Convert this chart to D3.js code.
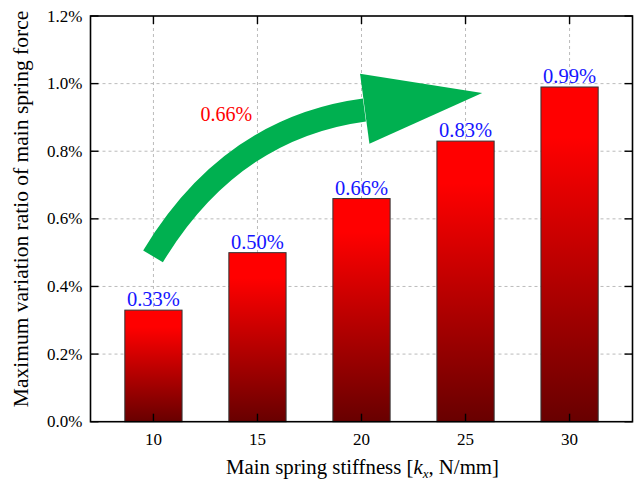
<!DOCTYPE html>
<html><head><meta charset="utf-8">
<script src="https://cdn.jsdelivr.net/npm/d3@7"></script>
<style>body{margin:0;background:#fff}svg{display:block}</style>
</head><body><svg id="c" width="642" height="483"></svg>
<script>
const categories = ["10","15","20","25","30"];
const values = [0.33, 0.50, 0.66, 0.83, 0.99];
const valueLabels = ["0.33%","0.50%","0.66%","0.83%","0.99%"];
const yTicks = [0,0.2,0.4,0.6,0.8,1.0,1.2];
const yTickLabels = ["0.0%","0.2%","0.4%","0.6%","0.8%","1.0%","1.2%"];
const annotationText = "0.66%";
// arrow path in data space: [stiffness, ratio%]
const arrowShaft = [[9.98,0.489],[13.7,0.869],[20.14,0.922]];
const arrowHead = [[19.93,1.029],[25.8,0.972],[20.38,0.822]];
const annotationPos = [13.5,0.89];

const FONT = "'Liberation Serif', 'Times New Roman', 'DejaVu Serif', serif";
const svg = d3.select("#c").attr("font-family", FONT);
const m = {l:90.5, r:632.5, t:16, b:421.7};
const x = d3.scaleBand().domain(categories).range([m.l,m.r]).paddingInner(0.45).paddingOuter(0.33);
const xc = d => x(d)+x.bandwidth()/2;
const xk = d3.scaleLinear().domain([10,15]).range([xc("10"),xc("15")]);
const y = d3.scaleLinear().domain([0,1.2]).range([m.b,m.t]);

const defs = svg.append("defs");
const g = defs.append("linearGradient").attr("id","bg").attr("x1",0).attr("y1",0).attr("x2",0).attr("y2",1);
g.append("stop").attr("offset","0").attr("stop-color","#ff0000");
g.append("stop").attr("offset","0.15").attr("stop-color","#ff0000");
g.append("stop").attr("offset","1").attr("stop-color","#680000");

// grid
svg.append("g").selectAll("line").data(yTicks.slice(1,-1)).join("line")
  .attr("x1",m.l).attr("x2",m.r).attr("y1",d=>y(d)).attr("y2",d=>y(d))
  .attr("stroke","#aaa").attr("stroke-width",0.8).attr("stroke-dasharray","3,3");
svg.append("g").selectAll("line").data(categories).join("line")
  .attr("x1",d=>xc(d)).attr("x2",d=>xc(d)).attr("y1",m.t).attr("y2",m.b)
  .attr("stroke","#aaa").attr("stroke-width",0.8).attr("stroke-dasharray","3,3");

// bars
svg.append("g").selectAll("rect").data(values).join("rect")
  .attr("x",(d,i)=>x(categories[i])).attr("width",x.bandwidth())
  .attr("y",d=>y(d)).attr("height",d=>y(0)-y(d))
  .attr("fill","url(#bg)").attr("stroke","#333").attr("stroke-width",1);

// value labels
svg.append("g").selectAll("text").data(values).join("text")
  .attr("font-family",FONT)
  .attr("x",(d,i)=>xc(categories[i])).attr("y",d=>y(d)-4)
  .attr("text-anchor","middle").attr("fill","#1515ff").attr("font-size",20.5)
  .text((d,i)=>valueLabels[i]);

// arrow
const shaft = d3.path();
const P = p => [xk(p[0]), y(p[1])];
const s0=P(arrowShaft[0]), s1=P(arrowShaft[1]), s2=P(arrowShaft[2]);
shaft.moveTo(s0[0],s0[1]); shaft.quadraticCurveTo(s1[0],s1[1],s2[0],s2[1]);
svg.append("path").attr("d",shaft.toString()).attr("fill","none").attr("stroke","#00b050").attr("stroke-width",23);
svg.append("path").attr("d",d3.line()(arrowHead.map(P))+"Z").attr("fill","#00b050");

svg.append("text").attr("font-family",FONT).attr("x",xk(annotationPos[0])).attr("y",y(annotationPos[1]))
  .attr("text-anchor","middle").attr("fill","#ff0000").attr("font-size",20).text(annotationText);

// axes
const ax = svg.append("g").attr("stroke","#000");
ax.append("rect").attr("x",m.l).attr("y",m.t).attr("width",m.r-m.l).attr("height",m.b-m.t)
  .attr("fill","none").attr("stroke","#000").attr("stroke-width",1.6);
const tl = 8;
ax.selectAll(".yl").data(yTicks).join("line").attr("x1",m.l).attr("x2",m.l+tl).attr("y1",d=>y(d)).attr("y2",d=>y(d)).attr("stroke-width",1.4);
ax.selectAll(".yr").data(yTicks).join("line").attr("class","yr").attr("x1",m.r).attr("x2",m.r-tl).attr("y1",d=>y(d)).attr("y2",d=>y(d)).attr("stroke-width",1.4);
ax.selectAll(".xb").data(categories).join("line").attr("class","xb").attr("x1",d=>xc(d)).attr("x2",d=>xc(d)).attr("y1",m.b).attr("y2",m.b-tl).attr("stroke-width",1.4);
ax.selectAll(".xt").data(categories).join("line").attr("class","xt").attr("x1",d=>xc(d)).attr("x2",d=>xc(d)).attr("y1",m.t).attr("y2",m.t+tl).attr("stroke-width",1.4);

svg.append("g").selectAll("text").data(yTicks).join("text").attr("font-family",FONT)
  .attr("x",m.l-8).attr("y",d=>y(d)+5.5).attr("text-anchor","end").attr("font-size",17)
  .text((d,i)=>yTickLabels[i]);
svg.append("g").selectAll("text").data(categories).join("text").attr("font-family",FONT)
  .attr("x",d=>xc(d)).attr("y",m.b+23).attr("text-anchor","middle").attr("font-size",17).text(d=>d);

const xt = svg.append("text").attr("font-family",FONT).attr("x",(m.l+m.r)/2+1).attr("y",474).attr("text-anchor","middle").attr("font-size",20.8);
xt.append("tspan").text("Main spring stiffness [");
xt.append("tspan").attr("font-style","italic").text("k");
xt.append("tspan").attr("font-style","italic").attr("font-size",13).attr("dy",4).text("x");
xt.append("tspan").attr("dy",-4).text(", N/mm]");

svg.append("text").attr("font-family",FONT).attr("transform",`translate(28,209) rotate(-90)`)
  .attr("text-anchor","middle").attr("font-size",21.5).text("Maximum variation ratio of main spring force");
</script></body></html>
